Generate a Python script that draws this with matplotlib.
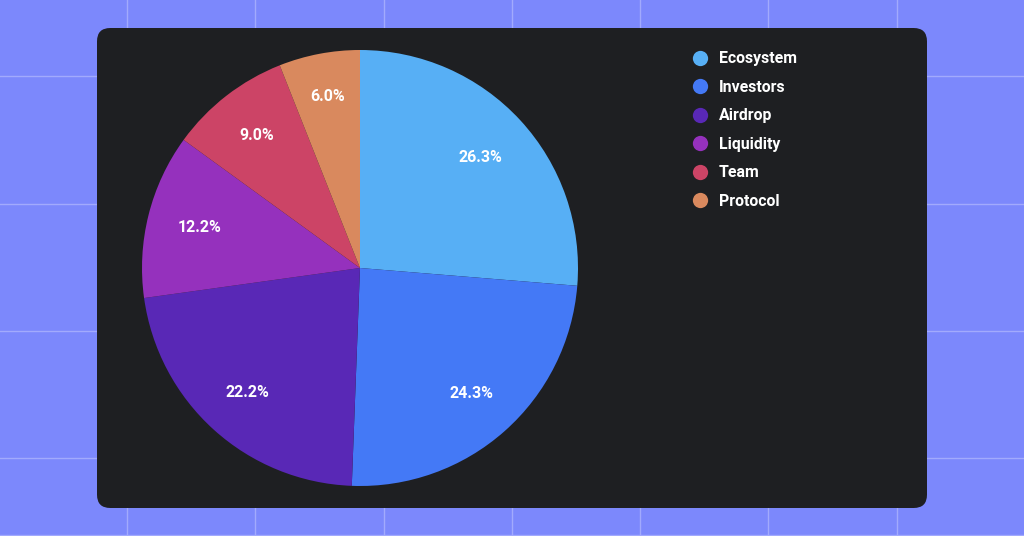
import numpy as np
import matplotlib.pyplot as plt
from matplotlib.patches import FancyBboxPatch
from matplotlib.lines import Line2D

plt.rcParams['font.family'] = ['Roboto', 'DejaVu Sans']

W, H = 1024, 536

labels = ["Ecosystem", "Investors", "Airdrop", "Liquidity", "Team", "Protocol"]
shares = [26.3, 24.3, 22.2, 12.2, 9.0, 6.0]
colors = ["#57aff5", "#4479f6", "#5928b6", "#9531bd", "#cc4466", "#d9895e"]
# how far from the centre each percentage sits (small slices pushed outward)
label_dist = [0.75, 0.77, 0.77, 0.76, 0.77, 0.80]

BG = "#7c88fc"
PANEL = "#1e1f22"
GRID = "#a2aafd"

fig = plt.figure(figsize=(W / 100, H / 100), dpi=100, facecolor=BG)

# background grid
for x in [127, 255, 384, 512, 640, 768, 897]:
    fig.add_artist(Line2D([x / W, x / W], [0, 1], color=GRID, lw=1,
                          transform=fig.transFigure, zorder=-3))
for y in [76, 204, 331, 458, 535]:
    fig.add_artist(Line2D([0, 1], [1 - y / H, 1 - y / H], color=GRID, lw=1,
                          transform=fig.transFigure, zorder=-3))

# dark rounded panel
px0, py0, px1, py1 = 97, 28, 927, 508
panel = FancyBboxPatch((px0 / W, 1 - py1 / H), (px1 - px0) / W, (py1 - py0) / H,
                       boxstyle="round,pad=0,rounding_size=0.013",
                       facecolor=PANEL, edgecolor="none",
                       transform=fig.transFigure, mutation_aspect=W / H, zorder=-2)
fig.add_artist(panel)

# pie
cx, cy, r = 360, 268, 218
ax = fig.add_axes([(cx - r) / W, 1 - (cy + r) / H, 2 * r / W, 2 * r / H])
ax.set_facecolor("none")
wedges, texts = ax.pie(shares, colors=colors, startangle=90, counterclock=False,
                       radius=1, wedgeprops=dict(linewidth=0))
for w, v, d in zip(wedges, shares, label_dist):
    ang = np.deg2rad((w.theta1 + w.theta2) / 2)
    ax.text(d * np.cos(ang), d * np.sin(ang), "{:.1f}%".format(v), color="white",
            fontsize=11.5, fontweight="bold", ha="center", va="center")
ax.set_aspect("equal")
ax.set_xlim(-1, 1)
ax.set_ylim(-1, 1)

# legend
handles = [Line2D([0], [0], marker="o", linestyle="none", markersize=11,
                  markerfacecolor=c, markeredgecolor="none") for c in colors]
leg = fig.legend(handles, labels, loc="upper left", bbox_to_anchor=(684 / W, 1 - 45 / H),
                 frameon=False, fontsize=11.4, labelspacing=0.85, handletextpad=0.6,
                 handlelength=1.2, borderaxespad=0)
for t in leg.get_texts():
    t.set_color("white")
    t.set_fontweight("bold")

fig.savefig("out.png", dpi=100, facecolor=BG)
